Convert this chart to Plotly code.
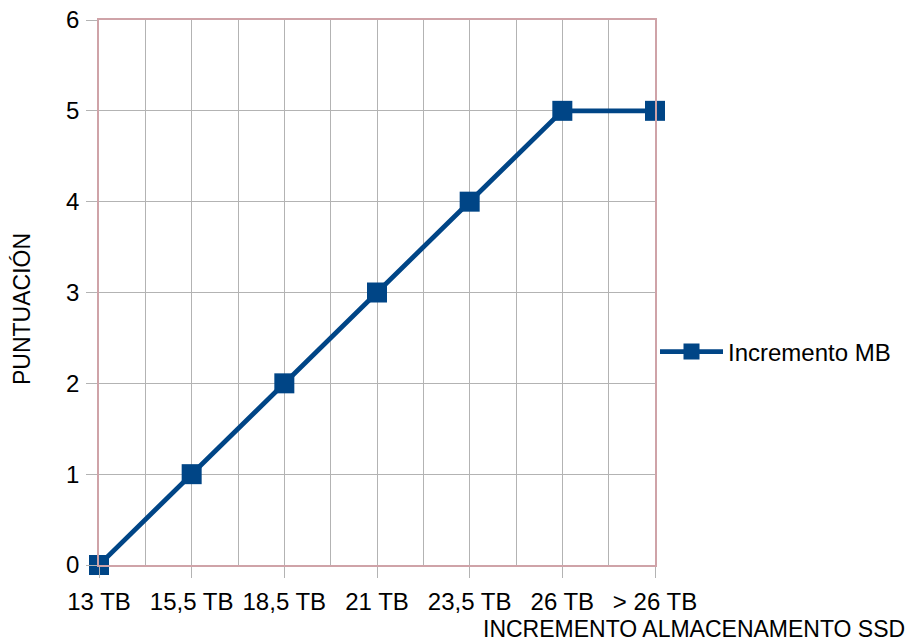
import plotly.graph_objects as go

categories = ["13 TB", "15,5 TB", "18,5 TB", "21 TB", "23,5 TB", "26 TB", "> 26 TB"]
puntuacion = [0, 1, 2, 3, 4, 5, 5]
series_name = "Incremento MB"
x_title = "INCREMENTO ALMACENAMENTO SSD"
y_title = "PUNTUACIÓN"
y_ticks = [0, 1, 2, 3, 4, 5, 6]

FONT = "Liberation Sans, Arial, sans-serif"
BLUE = "#004586"
GRID = "#b3b3b3"
BORDER = "#cfa3a8"

# page body has an 8px margin; compensate so the plot lands where the reference has it
OFF = 8
L, R, T, B = 99 - OFF, 913 - 655 + OFF, 20 - OFF, 641 - 565 + OFF
plot_w = 913 - L - R
plot_h = 641 - T - B

xpos = list(range(len(categories)))

fig = go.Figure()
fig.add_trace(go.Scatter(
    x=xpos, y=puntuacion, name=series_name, mode="lines+markers",
    line=dict(color=BLUE, width=4.8),
    marker=dict(symbol="square", size=20, color=BLUE),
    cliponaxis=False,
))

fig.update_layout(
    width=913, height=641,
    margin=dict(l=L, r=R, t=T, b=B, autoexpand=False),
    paper_bgcolor="white", plot_bgcolor="white",
    font=dict(family=FONT, size=24, color="black"),
    showlegend=True,
    legend=dict(x=1.0, y=(565 - 352) / 545, xanchor="left", yanchor="middle",
                font=dict(size=24), bgcolor="rgba(0,0,0,0)", itemwidth=63),
    xaxis=dict(
        range=[0, len(categories) - 1],
        tickvals=xpos, ticktext=categories,
        showgrid=True, gridcolor=GRID, gridwidth=1,
        minor=dict(dtick=0.5, showgrid=True, gridcolor=GRID, gridwidth=1),
        ticks="outside", ticklen=11, tickcolor=GRID, tickwidth=1,
        ticklabelstandoff=3, automargin=False, ticklabeloverflow="allow",
        showline=True, linecolor=BORDER, linewidth=1.5, mirror=True,
        zeroline=False, tickfont=dict(size=24),
    ),
    yaxis=dict(
        range=[0, 6], tickvals=y_ticks,
        showgrid=True, gridcolor=GRID, gridwidth=1,
        ticks="outside", ticklen=11, tickcolor=GRID, tickwidth=1,
        ticklabelstandoff=2, automargin=False, ticklabeloverflow="allow",
        showline=True, linecolor=BORDER, linewidth=1.5, mirror=True,
        zeroline=False, tickfont=dict(size=24),
    ),
)
fig.add_annotation(text=x_title, xref="paper", yref="paper",
                   x=(907 - 99) / plot_w, y=-(629 - 565) / plot_h,
                   xanchor="right", yanchor="middle", showarrow=False,
                   font=dict(size=23))
fig.add_annotation(text=y_title, xref="paper", yref="paper",
                   x=-(99 - 22) / plot_w, y=(565 - 309) / plot_h,
                   xanchor="center", yanchor="middle", textangle=-90,
                   showarrow=False, font=dict(size=23))

fig.write_html("out.html")
